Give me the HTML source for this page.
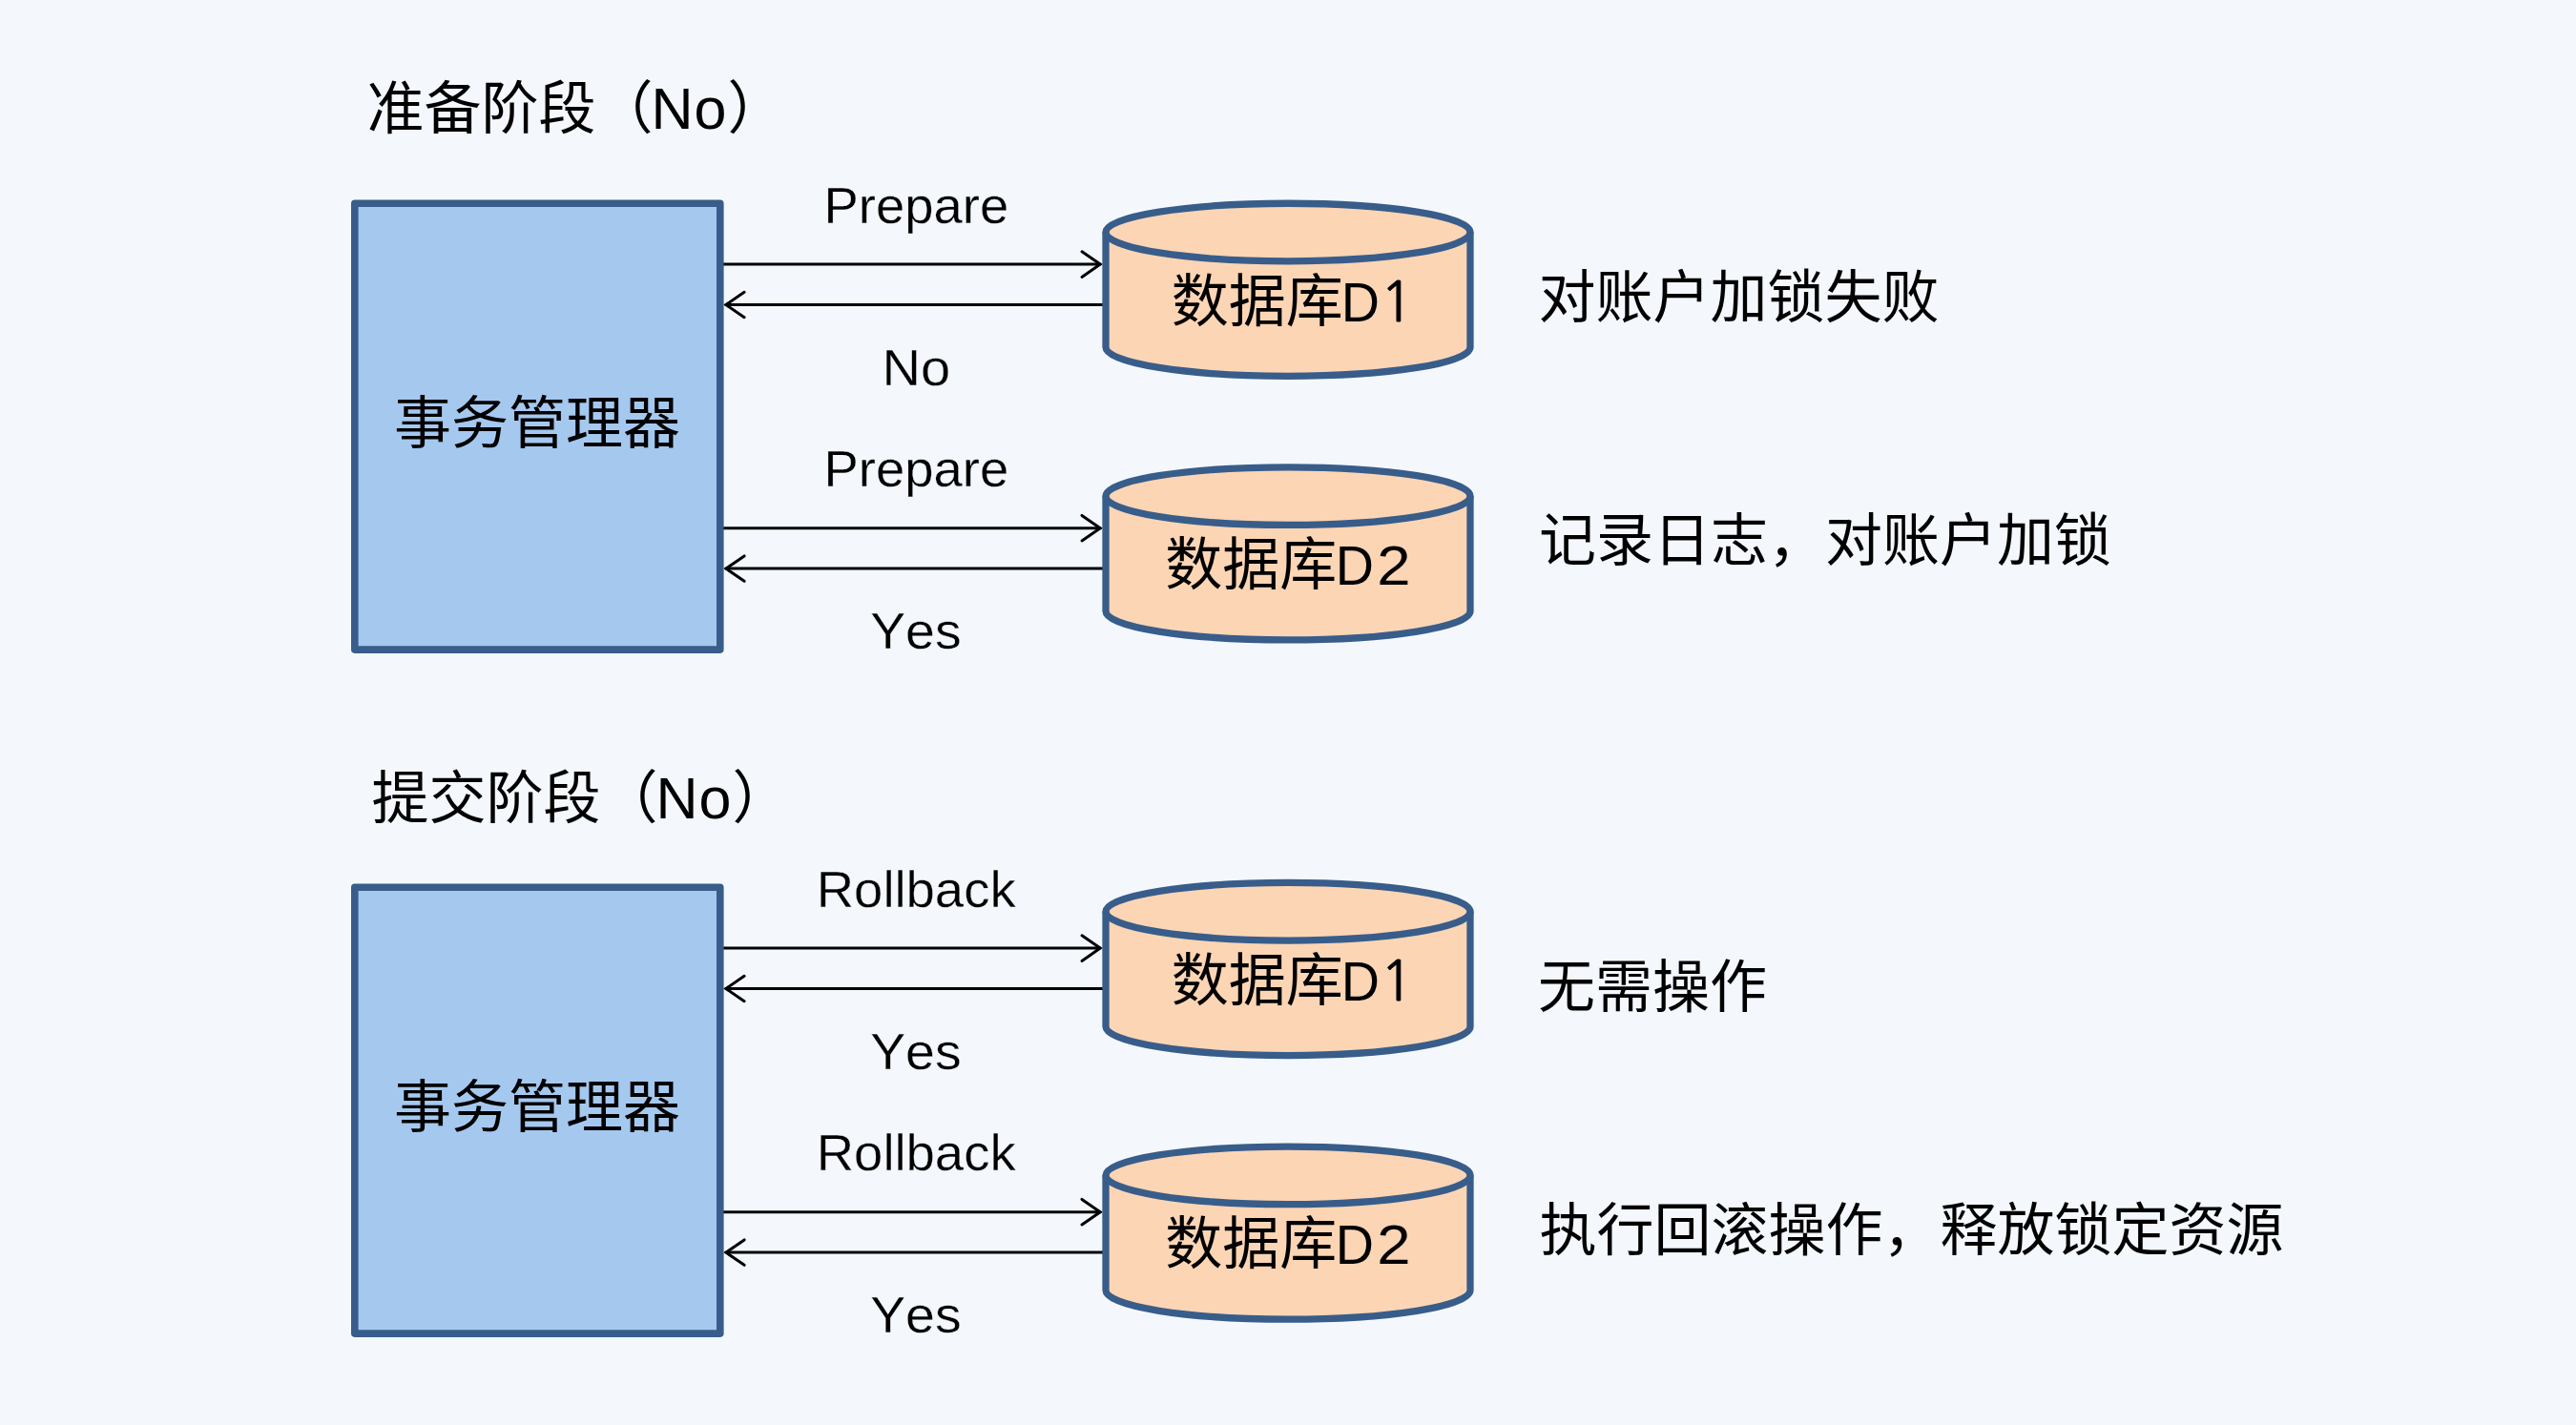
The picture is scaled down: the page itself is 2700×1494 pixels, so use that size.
<!DOCTYPE html>
<html lang="zh-CN">
<head>
<meta charset="utf-8">
<title>两阶段提交：准备阶段（No）与提交阶段（No）</title>
<style>
html,body{margin:0;padding:0;background:#F4F8FD;}
body{width:2700px;height:1494px;overflow:hidden;}
svg{display:block;}
text{font-family:"Liberation Sans","Noto Sans CJK SC",sans-serif;fill:#000;font-weight:400;}
.c{font-size:60px;}
.l{font-size:53.5px;text-anchor:middle;font-kerning:none;stroke:#F4F8FD;stroke-width:0.3px;}
.n{font-size:61px;letter-spacing:1px;}
.d{font-size:58px;}
.two{font-size:58px;}
.one{font-family:"NanumGothic","Liberation Sans",sans-serif;font-size:58px;stroke:#000;stroke-width:0.8px;}
.m{text-anchor:middle;}
.arr path{fill:none;stroke:#000;stroke-width:3;stroke-linecap:round;stroke-linejoin:miter;}
</style>
</head>
<body>
<svg width="2700" height="1494" viewBox="0 0 2700 1494">
<rect width="2700" height="1494" fill="#F4F8FD"/>
<g class="arr">
<path d="M758,277.1 H1153" />
<path d="M1134,263.8 L1153.2,277.1 L1134,290.4" />
<path d="M761,319.5 H1156" />
<path d="M780.1,306.3 L760.9,319.5 L780.1,332.7" />
<path d="M758,553.7 H1153" />
<path d="M1134,540.4 L1153.2,553.7 L1134,567.0" />
<path d="M761,596.1 H1156" />
<path d="M780.1,582.9 L760.9,596.1 L780.1,609.3" />
<path d="M758,994.1 H1153" />
<path d="M1134,980.8 L1153.2,994.1 L1134,1007.4" />
<path d="M761,1036.5 H1156" />
<path d="M780.1,1023.3 L760.9,1036.5 L780.1,1049.7" />
<path d="M758,1270.7 H1153" />
<path d="M1134,1257.4 L1153.2,1270.7 L1134,1284.0" />
<path d="M761,1313.1 H1156" />
<path d="M780.1,1299.9 L760.9,1313.1 L780.1,1326.3" />
</g>
<rect x="371.8" y="213.2" width="383" height="467.9" fill="#A5C8EF" stroke="#385D8A" stroke-width="7.6" stroke-linejoin="round"/>
<rect x="371.8" y="930.2" width="383" height="467.9" fill="#A5C8EF" stroke="#385D8A" stroke-width="7.6" stroke-linejoin="round"/>
<path d="M1159,243.55 V364.05 A191,30.3 0 0 0 1541,364.05 V243.55 A191,30.3 0 0 0 1159,243.55 Z" fill="#FCD5B5" stroke="#385D8A" stroke-width="7.3" stroke-linejoin="round"/><path d="M1159,243.55 A191,30.3 0 0 0 1541,243.55" fill="none" stroke="#385D8A" stroke-width="7.3"/>
<path d="M1159,520.15 V640.65 A191,30.3 0 0 0 1541,640.65 V520.15 A191,30.3 0 0 0 1159,520.15 Z" fill="#FCD5B5" stroke="#385D8A" stroke-width="7.3" stroke-linejoin="round"/><path d="M1159,520.15 A191,30.3 0 0 0 1541,520.15" fill="none" stroke="#385D8A" stroke-width="7.3"/>
<path d="M1159,955.75 V1076.25 A191,30.3 0 0 0 1541,1076.25 V955.75 A191,30.3 0 0 0 1159,955.75 Z" fill="#FCD5B5" stroke="#385D8A" stroke-width="7.3" stroke-linejoin="round"/><path d="M1159,955.75 A191,30.3 0 0 0 1541,955.75" fill="none" stroke="#385D8A" stroke-width="7.3"/>
<path d="M1159,1232.35 V1352.85 A191,30.3 0 0 0 1541,1352.85 V1232.35 A191,30.3 0 0 0 1159,1232.35 Z" fill="#FCD5B5" stroke="#385D8A" stroke-width="7.3" stroke-linejoin="round"/><path d="M1159,1232.35 A191,30.3 0 0 0 1541,1232.35" fill="none" stroke="#385D8A" stroke-width="7.3"/>
<text class="c" x="384.5" y="135">准备阶段（<tspan class="n" dx="-2">No</tspan>）</text>
<text class="c" x="389.5" y="858">提交阶段（<tspan class="n" dx="-2">No</tspan>）</text>
<text class="c m" x="563" y="465">事务管理器</text>
<text class="c m" x="563" y="1182">事务管理器</text>
<text class="l" transform="translate(960.4,234.1) scale(1.018,1)">Prepare</text>
<text class="l" transform="translate(960.4,404.1) scale(1.048,1)">No</text>
<text class="l" transform="translate(960.4,510.1) scale(1.018,1)">Prepare</text>
<text class="l" transform="translate(959.9,679.9) scale(1.035,1)">Yes</text>
<text class="l" transform="translate(960.2,951) scale(1.018,1)">Rollback</text>
<text class="l" transform="translate(959.9,1121.1) scale(1.035,1)">Yes</text>
<text class="l" transform="translate(960.2,1227.1) scale(1.018,1)">Rollback</text>
<text class="l" transform="translate(959.9,1396.8) scale(1.035,1)">Yes</text>
<text class="c" x="1227.7" y="337">数据库<tspan class="d" dx="-2" textLength="40.2" lengthAdjust="spacingAndGlyphs">D</tspan><tspan class="one" dx="0.7">1</tspan></text>
<text class="c" x="1221.3" y="613">数据库<tspan class="d" dx="-1.5" textLength="40.2" lengthAdjust="spacingAndGlyphs">D</tspan><tspan class="two" dx="3.2" textLength="35.3" lengthAdjust="spacingAndGlyphs">2</tspan></text>
<text class="c" x="1227.7" y="1049.2">数据库<tspan class="d" dx="-2" textLength="40.2" lengthAdjust="spacingAndGlyphs">D</tspan><tspan class="one" dx="0.7">1</tspan></text>
<text class="c" x="1221.3" y="1325.2">数据库<tspan class="d" dx="-1.5" textLength="40.2" lengthAdjust="spacingAndGlyphs">D</tspan><tspan class="two" dx="3.2" textLength="35.3" lengthAdjust="spacingAndGlyphs">2</tspan></text>
<text class="c" x="1612.5" y="333">对账户加锁失败</text>
<text class="c" x="1613" y="588">记录日志，对账户加锁</text>
<text class="c" x="1612" y="1056">无需操作</text>
<text class="c" x="1613.5" y="1311">执行回滚操作，释放锁定资源</text>
</svg>
</body>
</html>
